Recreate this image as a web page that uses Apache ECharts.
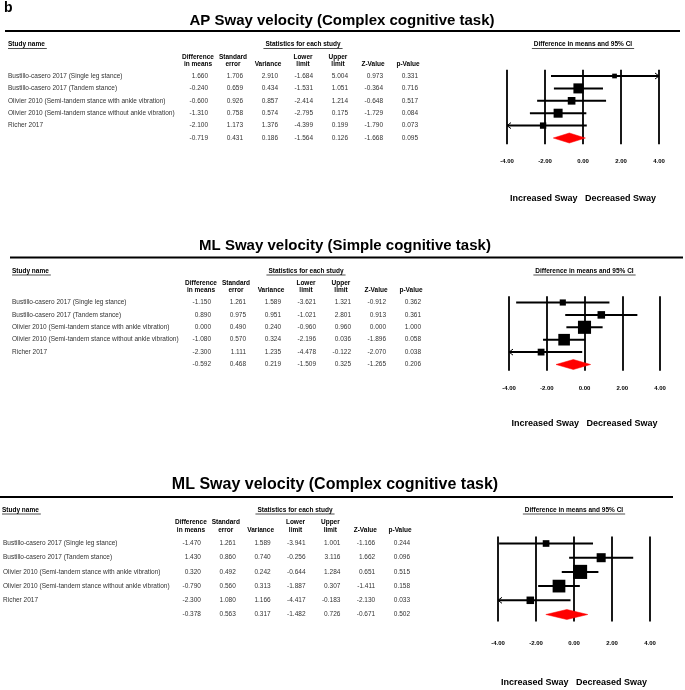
<!DOCTYPE html>
<html><head><meta charset="utf-8">
<script src="https://cdn.jsdelivr.net/npm/echarts@6/dist/echarts.min.js"></script>
<style>html,body{margin:0;padding:0;background:#fff}#c{width:685px;height:690px}</style>
</head><body><div id="c"></div>
<script>
// ---------------- DATA ----------------
const studyNames = [
  'Bustillo-casero 2017 (Single leg stance)',
  'Bustillo-casero 2017 (Tandem stance)',
  'Olivier 2010 (Semi-tandem stance with ankle vibration)',
  'Olivier 2010 (Semi-tandem stance without ankle vibration)',
  'Richer 2017',
  ''
];
const statColumns = ['Difference\nin means', 'Standard\nerror', 'Variance', 'Lower\nlimit', 'Upper\nlimit', 'Z-Value', 'p-Value'];
const ciTicks = [-4, -2, 0, 2, 4];
const panelTitles = [
  'AP Sway velocity (Complex cognitive task)',
  'ML Sway velocity (Simple cognitive task)',
  'ML Sway velocity (Complex cognitive task)'
];

// Panel 1: AP sway velocity, complex task (last entry = pooled)
const apCxDiff  = [1.660, -0.240, -0.600, -1.310, -2.100, -0.719];
const apCxSE    = [1.706, 0.659, 0.926, 0.758, 1.173, 0.431];
const apCxVar   = [2.910, 0.434, 0.857, 0.574, 1.376, 0.186];
const apCxLower = [-1.684, -1.531, -2.414, -2.795, -4.399, -1.564];
const apCxUpper = [5.004, 1.051, 1.214, 0.175, 0.199, 0.126];
const apCxZ     = [0.973, -0.364, -0.648, -1.729, -1.790, -1.668];
const apCxP     = [0.331, 0.716, 0.517, 0.084, 0.073, 0.095];

// Panel 2: ML sway velocity, simple task
const mlSmDiff  = [-1.150, 0.890, 0.000, -1.080, -2.300, -0.592];
const mlSmSE    = [1.261, 0.975, 0.490, 0.570, 1.111, 0.468];
const mlSmVar   = [1.589, 0.951, 0.240, 0.324, 1.235, 0.219];
const mlSmLower = [-3.621, -1.021, -0.960, -2.196, -4.478, -1.509];
const mlSmUpper = [1.321, 2.801, 0.960, 0.036, -0.122, 0.325];
const mlSmZ     = [-0.912, 0.913, 0.000, -1.896, -2.070, -1.265];
const mlSmP     = [0.362, 0.361, 1.000, 0.058, 0.038, 0.206];

// Panel 3: ML sway velocity, complex task
const mlCxDiff  = [-1.470, 1.430, 0.320, -0.790, -2.300, -0.378];
const mlCxSE    = [1.261, 0.860, 0.492, 0.560, 1.080, 0.563];
const mlCxVar   = [1.589, 0.740, 0.242, 0.313, 1.166, 0.317];
const mlCxLower = [-3.941, -0.256, -0.644, -1.887, -4.417, -1.482];
const mlCxUpper = [1.001, 3.116, 1.284, 0.307, -0.183, 0.726];
const mlCxZ     = [-1.166, 1.662, 0.651, -1.411, -2.130, -0.671];
const mlCxP     = [0.244, 0.096, 0.515, 0.158, 0.033, 0.502];

const panelData = [
  [apCxDiff, apCxSE, apCxVar, apCxLower, apCxUpper, apCxZ, apCxP],
  [mlSmDiff, mlSmSE, mlSmVar, mlSmLower, mlSmUpper, mlSmZ, mlSmP],
  [mlCxDiff, mlCxSE, mlCxVar, mlCxLower, mlCxUpper, mlCxZ, mlCxP]
];

// ---------------- LAYOUT / STYLE ----------------
const FONT = '"Liberation Sans", Arial, Helvetica, sans-serif';
const layouts = [
  {titleX:342, titleY:21, titleSize:15, ruleY:31, ruleX:[5,680], headY:44.5, nameX:8,
   tabLeft:180.5, tabWidth:245, top:69.8, rowH:12.4, plotLeft:507, plotWidth:152,
   hdrMargin:2.5, hdrLH:7, tickMargin:14.3, swayGap:49.5, boxScale:7.2},
  {titleX:345, titleY:246, titleSize:15, ruleY:257.5, ruleX:[10,683], headY:271, nameX:12,
   tabLeft:183.5, tabWidth:245, top:296.3, rowH:12.4, plotLeft:509, plotWidth:151,
   hdrMargin:2.5, hdrLH:7, tickMargin:14.3, swayGap:48, boxScale:7.4},
  {titleX:335, titleY:485, titleSize:16, ruleY:497, ruleX:[0,673], headY:510, nameX:2,
   tabLeft:172.5, tabWidth:245, top:536.4, rowH:14.2, plotLeft:498, plotWidth:152,
   hdrMargin:1.5, hdrLH:8.5, tickMargin:18.9, swayGap:56.5, boxScale:8}
];
const NUM_OFFSET = 10;
const TXT = 6.5;

const mctx = document.createElement('canvas').getContext('2d');
function tw(t, font) { mctx.font = font; return mctx.measureText(t).width; }

const grids = [], xAxes = [], yAxes = [], series = [], graphics = [];
graphics.push({type:'text', x:4, y:1.5, style:{text:'b', font:`bold 14px ${FONT}`, fill:'#000'}});

const ciMin = ciTicks[0], ciMax = ciTicks[ciTicks.length - 1];

layouts.forEach((L, pi) => {
  const h = L.rowH * studyNames.length;
  grids.push({left:L.tabLeft, top:L.top, width:L.tabWidth, height:h});
  grids.push({left:L.plotLeft, top:L.top, width:L.plotWidth, height:h});
  xAxes.push({
    type:'category', gridIndex:pi*2, data:statColumns, position:'top',
    axisLine:{show:false}, axisTick:{show:false}, splitLine:{show:false},
    axisLabel:{interval:0, margin:L.hdrMargin, fontFamily:FONT, fontSize:TXT, fontWeight:'bold',
      color:'#000', lineHeight:L.hdrLH, align:'center'}
  });
  xAxes.push({
    type:'value', gridIndex:pi*2+1, min:ciMin, max:ciMax, interval:2, position:'bottom',
    axisLine:{show:false}, axisTick:{show:false},
    splitLine:{show:true, lineStyle:{color:'#000', width:1.8}},
    axisLabel:{margin:L.tickMargin, formatter:v => v.toFixed(2), fontFamily:FONT, fontSize:6,
      fontWeight:'bold', color:'#000'},
    name:'Increased Sway   Decreased Sway', nameLocation:'middle', nameGap:L.swayGap,
    nameTextStyle:{fontFamily:FONT, fontSize:9, fontWeight:'bold', color:'#000'}
  });
  yAxes.push({
    type:'category', gridIndex:pi*2, data:studyNames, inverse:true,
    axisLine:{show:false}, axisTick:{show:false}, splitLine:{show:false},
    axisLabel:{interval:0, align:'left', margin:L.tabLeft - L.nameX, fontFamily:FONT, fontSize:TXT, color:'#333'}
  });
  yAxes.push({type:'category', gridIndex:pi*2+1, data:studyNames, inverse:true, show:false});

  // table values
  const cols = panelData[pi];
  const tData = [], texts = [];
  cols.forEach((arr, c) => arr.forEach((v, r) => { tData.push([c, r]); texts.push(v.toFixed(3)); }));
  series.push({
    type:'custom', xAxisIndex:pi*2, yAxisIndex:pi*2, data:tData, silent:true, clip:false,
    renderItem(params, api) {
      const p = api.coord([api.value(0), api.value(1)]);
      return {type:'text', x:p[0] + NUM_OFFSET, y:p[1],
        style:{text:texts[params.dataIndex], textAlign:'right', textVerticalAlign:'middle',
          font:`${TXT}px ${FONT}`, fill:'#333'}};
    }
  });

  // forest marks
  const diff = cols[0], vari = cols[2], lower = cols[3], upper = cols[4];
  const fData = diff.map((d, r) => [d, r, lower[r], upper[r], vari[r]]);
  const last = fData.length - 1;
  series.push({
    type:'custom', xAxisIndex:pi*2+1, yAxisIndex:pi*2+1, data:fData, silent:true, clip:false,
    renderItem(params, api) {
      const r = api.value(1), m = api.value(0), lo = api.value(2), hi = api.value(3), v = api.value(4);
      const y = api.coord([0, r])[1];
      const xm = api.coord([m, r])[0];
      const xlo = api.coord([Math.max(lo, ciMin), r])[0];
      const xhi = api.coord([Math.min(hi, ciMax), r])[0];
      if (params.dataIndex === last) {
        return {type:'polygon', shape:{points:[[xlo,y],[xm,y-5],[xhi,y],[xm,y+5]]},
          style:{fill:'#ff0000', stroke:'#ff0000', lineWidth:0.5}};
      }
      const ch = [{type:'line', shape:{x1:xlo, y1:y, x2:xhi, y2:y}, style:{stroke:'#000', lineWidth:2}}];
      if (lo < ciMin) ch.push({type:'polyline', shape:{points:[[xlo+4,y-3],[xlo,y],[xlo+4,y+3]]},
        style:{stroke:'#000', lineWidth:1, fill:null}});
      if (hi > ciMax) ch.push({type:'polyline', shape:{points:[[xhi-4,y-3],[xhi,y],[xhi-4,y+3]]},
        style:{stroke:'#000', lineWidth:1, fill:null}});
      const s = L.boxScale * Math.pow(1 / v, 0.4);
      ch.push({type:'rect', shape:{x:xm - s/2, y:y - s/2, width:s, height:s}, style:{fill:'#000'}});
      return {type:'group', children:ch};
    }
  });

  // titles, rule, headers
  graphics.push({type:'text', x:L.titleX, y:L.titleY,
    style:{text:panelTitles[pi], font:`bold ${L.titleSize}px ${FONT}`, fill:'#000', textAlign:'center', textVerticalAlign:'middle'}});
  graphics.push({type:'line', shape:{x1:L.ruleX[0], y1:L.ruleY, x2:L.ruleX[1], y2:L.ruleY}, style:{stroke:'#000', lineWidth:2}});
  const hf = `bold ${TXT}px ${FONT}`;
  const heads = [
    {t:'Study name', x:L.nameX, align:'left'},
    {t:'Statistics for each study', x:L.tabLeft + L.tabWidth/2, align:'center'},
    {t:'Difference in means and 95% CI', x:L.plotLeft + L.plotWidth/2, align:'center'}
  ];
  heads.forEach(hd => {
    graphics.push({type:'text', x:hd.x, y:L.headY,
      style:{text:hd.t, font:hf, fill:'#000', textAlign:hd.align, textVerticalAlign:'middle'}});
    const w = tw(hd.t, hf);
    const x1 = hd.align === 'left' ? hd.x : hd.x - w/2 - 2;
    const x2 = hd.align === 'left' ? hd.x + w + 2 : hd.x + w/2 + 2;
    graphics.push({type:'line', shape:{x1, y1:L.headY + 4, x2, y2:L.headY + 4}, style:{stroke:'#000', lineWidth:0.7}});
  });
});

const chart = echarts.init(document.getElementById('c'), null, {renderer:'canvas'});
chart.setOption({
  backgroundColor:'#fff',
  animation:false,
  textStyle:{fontFamily:FONT},
  grid:grids, xAxis:xAxes, yAxis:yAxes, series, graphic:graphics
});
</script>
</body></html>
